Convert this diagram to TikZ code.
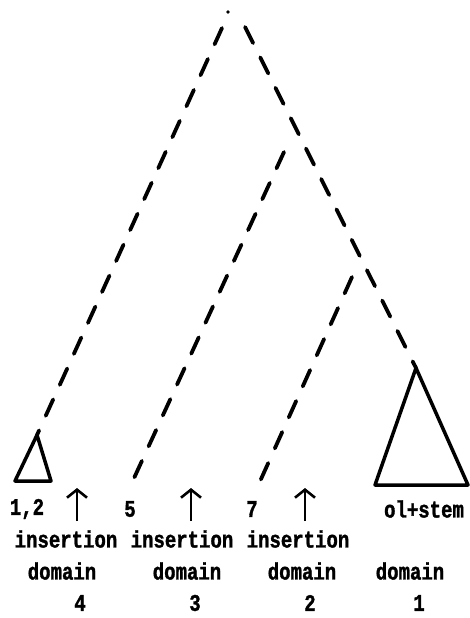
\documentclass[tikz,border=0pt]{standalone}
\usepackage{fontspec}
\newfontfamily\dm{Liberation Mono}[BoldFeatures={FakeBold=1.6}]
\usetikzlibrary{arrows.meta}
\newcommand\tall[1]{\scalebox{1}[1.25]{#1}}
\tikzset{
 branch/.style={line width=3.8pt, line cap=round, dash pattern=on 18pt off 16pt},
 tri/.style={line width=3.5pt, line join=round},
 lbl/.style={inner sep=0pt, font=\dm\bfseries\fontsize{19}{19}\selectfont},
 uparrow/.style={line width=2.6pt, -{Straight Barb[length=8pt,width=20pt,line width=2.6pt]}}
}
\begin{document}
\begin{tikzpicture}[x=1pt,y=-1pt]
\useasboundingbox (0,0) rectangle (470,618);
% top dot
\fill (228,12) circle (1.8pt);
\coordinate (ls) at (222,28);
\coordinate (rs) at (245,27);
% small triangle (domain 4)
\coordinate (t4) at (37,435);
\coordinate (t4a) at (15,481);
\coordinate (t4b) at (51,481);
\draw[tri] (t4) -- (t4a) -- (t4b) -- cycle;
% big triangle (domain 1)
\coordinate (t1) at (416,368);
\coordinate (t1a) at (375,485);
\coordinate (t1b) at (468,485);
\draw[tri] (t1) -- (t1a) -- (t1b) -- cycle;
% main branches
\draw[branch] (ls) -- (t4);
\draw[branch] (rs) -- (t1);
% branch 5
\coordinate (s5) at (284,152);
\coordinate (e5) at (129,489);
\draw[branch] (s5) -- (e5);
% branch 7
\coordinate (s7) at (352,277);
\coordinate (e7) at (257,488);
\draw[branch] (s7) -- (e7);
% labels row 1
\node[lbl] (n12) at (27,509) {\tall{1,2}};
\node[lbl] (n5) at (130,509) {\tall{5}};
\node[lbl] (n7) at (252,509) {\tall{7}};
\node[lbl] (nst) at (424,509) {\tall{ol+stem}};
% arrows
\coordinate (a1s) at (77,521); \coordinate (a1e) at (77,488);
\coordinate (a2s) at (191,521); \coordinate (a2e) at (191,488);
\coordinate (a3s) at (305,521); \coordinate (a3e) at (305,488);
\draw[uparrow] (a1s) -- (a1e);
\draw[uparrow] (a2s) -- (a2e);
\draw[uparrow] (a3s) -- (a3e);
% row 2
\node[lbl] (i4) at (66,539) {\tall{insertion}};
\node[lbl] (i3) at (182,539) {\tall{insertion}};
\node[lbl] (i2) at (298,539) {\tall{insertion}};
% row 3
\node[lbl] (d4) at (62,571) {\tall{domain}};
\node[lbl] (d3) at (187,571) {\tall{domain}};
\node[lbl] (d2) at (302,571) {\tall{domain}};
\node[lbl] (d1) at (410,571) {\tall{domain}};
% row 4
\node[lbl] (k4) at (80,603) {\tall{4}};
\node[lbl] (k3) at (195,603) {\tall{3}};
\node[lbl] (k2) at (310,603) {\tall{2}};
\node[lbl] (k1) at (419,603) {\tall{1}};
\end{tikzpicture}
\end{document}
